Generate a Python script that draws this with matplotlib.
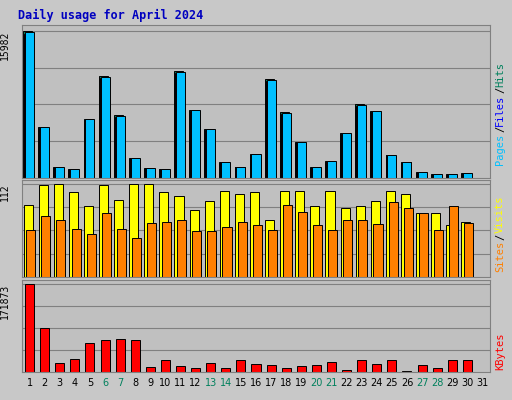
import matplotlib
matplotlib.use("Agg")
import matplotlib.pyplot as plt
import numpy as np

days = list(range(1, 32))
hits = [15982,5580,1200,985,6460,11050,6790,2190,1100,985,11600,7440,5360,1750,1200,2630,10730,7120,3940,1200,1860,4930,7990,7330,2520,1750,660,440,440,550,0]
files = [h*0.98 for h in hits]
pages = [h*0.99 for h in hits]
visits = [87,110,112,102,85,110,92,112,112,102,97,81,91,103,100,102,68,103,103,85,103,83,85,91,103,100,77,77,62,66,0]
sites = [56,73,68,58,52,77,58,47,65,66,68,55,55,60,66,62,56,87,78,62,56,68,68,64,90,83,77,57,85,65,0]
kbytes = [171873,86000,18000,26000,56000,62000,64000,62000,10000,24000,12000,8000,18000,8000,24000,16000,14000,8000,12000,14000,20000,4000,24000,16000,24000,2000,14000,8000,24000,24000,0]
weekends = [6,7,13,14,20,21,27,28]

fig = plt.figure(figsize=(5.12,4), dpi=100, facecolor='#C8C8C8')
mono = 'DejaVu Sans Mono'
fig.text(18/512, 1-15/400, 'Daily usage for April 2024', color='#0000C0', family=mono, weight='bold', fontsize=8.5, va='center')

L, W = 22/512, 468/512
def mkax(top, bot):
    ax = fig.add_axes([L, 1-bot/400, W, (bot-top)/400])
    ax.set_facecolor('#C0C0C0')
    ax.set_xlim(0.5, 31.5)
    ax.set_xticks([])
    for s in ax.spines.values():
        s.set_color('#808080')
    return ax

x = np.array(days)
def panel(ax, series, colors, offsets, width, maxv, label):
    ax.set_ylim(0, maxv*1.04)
    for q in [0.25,0.5,0.75,1.0]:
        ax.axhline(maxv*q, color='#808080', lw=0.8, zorder=0)
    for s, c, o in zip(series, colors, offsets):
        ax.bar(x+o, s, width=width, color=c, edgecolor='black', lw=0.7, zorder=2)
    ax.set_yticks([])
    ax.text(-0.025, 1/1.04, label, transform=ax.transAxes, rotation=90, ha='right', va='top', fontsize=7, family=mono)

a1 = mkax(25, 178)
panel(a1, [hits, files, pages], ['#00805c','#0000ff','#00c0ff'], [-0.12,-0.06,0.0], 0.6, 15982, '15982')
a2 = mkax(180, 277)
panel(a2, [visits, sites], ['#ffff00','#ff8000'], [-0.1,0.08], 0.6, 112, '112')
a3 = mkax(280, 372)
panel(a3, [kbytes], ['#ff0000'], [0.0], 0.6, 171873, '171873')

for d in days:
    a3.text(d, -0.06, str(d), transform=a3.get_xaxis_transform(), ha='center', va='top', fontsize=7,
            color='#00805c' if d in weekends else 'black')

def rlabel(ypix, parts):
    xf = 500/512
    y = 1-ypix/400
    for txt, col in parts:
        t = fig.text(xf, y, txt, rotation=90, color=col, family=mono, fontsize=7.5, ha='center', va='bottom')
        y += len(txt)*6.5/400
rlabel(165, [('Pages','#00c0ff'),('/','#000000'),('Files','#0000ff'),('/','#000000'),('Hits','#00805c')])
rlabel(272, [('Sites','#ff8000'),('/','#000000'),('Visits','#ffff00')])
rlabel(370, [('KBytes','#ff0000')])

fig.savefig('out.png', dpi=100, facecolor=fig.get_facecolor())
